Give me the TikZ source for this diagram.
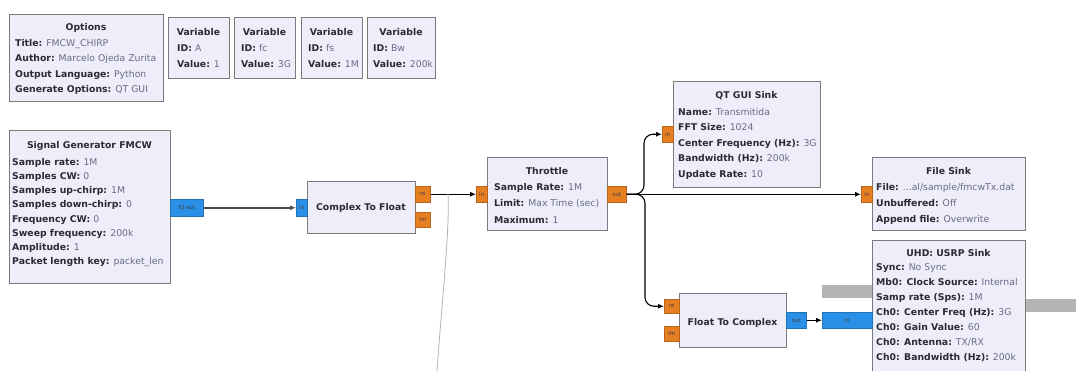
\documentclass[tikz,border=0pt]{standalone}
\usepackage{fontspec}
\setmainfont{DejaVu Sans}
\usetikzlibrary{arrows.meta}
\definecolor{boxfill}{HTML}{EEEEFA}
\definecolor{boxline}{HTML}{7A7A7A}
\definecolor{keyc}{HTML}{2A2A35}
\definecolor{valc}{HTML}{6A6A88}
\definecolor{porto}{HTML}{E67E22}
\definecolor{portb}{HTML}{2A8FE6}
\definecolor{gbarc}{HTML}{B4B4B4}
\newcommand\pf[1]{\fontsize{9.3}{#1}\selectfont}
\newcommand\kv[2]{\textbf{\color{keyc}#1:} {\color{valc}#2}}
\tikzset{
  box/.style={draw=boxline, fill=boxfill, line width=1.3pt, inner sep=0pt, anchor=north west},
  ttl/.style={font=\pf{12}\bfseries, text=keyc, anchor=base, inner sep=0pt},
  prm/.style={font=\pf{#1}, anchor=base west, inner sep=0pt},
  portbase/.style={draw=#1!80!black, fill=#1, line width=0.5pt, inner sep=0pt, anchor=north west,
    font=\fontsize{5.5}{6}\selectfont, text=black!75},
  po/.style={portbase=porto},
  pb/.style={portbase=portb},
  gbar/.style={fill=gbarc, draw=none, inner sep=0pt, anchor=north west},
  wire/.style={draw=black, line width=1.1pt, -{Latex[length=6pt,width=5pt]}},
}
\begin{document}
\begin{tikzpicture}[x=1pt,y=-1pt]
\useasboundingbox (0,0) rectangle (1076,370);
\clip (0,0) rectangle (1076,370);
\fill[white] (0,0) rectangle (1076,370);

% Options
\node[box, minimum width=154, minimum height=87] (opt) at (9,14) {};
\node[ttl] (optT) at (86,30) {Options};
\node[prm=15.6] (optP) at (15,46) {\begin{tabular}[t]{@{}l@{}}
\kv{Title}{FMCW\_CHIRP}\\ \kv{Author}{Marcelo Ojeda Zurita}\\
\kv{Output Language}{Python}\\ \kv{Generate Options}{QT GUI}\end{tabular}};

% Variables
\node[box, minimum width=61, minimum height=61] (varA) at (168,17) {};
\node[ttl] (varAT) at (198.5,35.6) {Variable};
\node[prm=15.8] (varAP) at (177,51.6) {\begin{tabular}[t]{@{}l@{}}\kv{ID}{A}\\ \kv{Value}{1}\end{tabular}};
\node[box, minimum width=61, minimum height=61] (varB) at (234,17) {};
\node[ttl] (varBT) at (264.5,35.6) {Variable};
\node[prm=15.8] (varBP) at (241,51.6) {\begin{tabular}[t]{@{}l@{}}\kv{ID}{fc}\\ \kv{Value}{3G}\end{tabular}};
\node[box, minimum width=61, minimum height=61] (varC) at (301,17) {};
\node[ttl] (varCT) at (331.5,35.6) {Variable};
\node[prm=15.8] (varCP) at (308,51.6) {\begin{tabular}[t]{@{}l@{}}\kv{ID}{fs}\\ \kv{Value}{1M}\end{tabular}};
\node[box, minimum width=68, minimum height=61] (varD) at (367,17) {};
\node[ttl] (varDT) at (401,35.6) {Variable};
\node[prm=15.8] (varDP) at (373,51.6) {\begin{tabular}[t]{@{}l@{}}\kv{ID}{Bw}\\ \kv{Value}{200k}\end{tabular}};

% Signal generator
\node[box, minimum width=161, minimum height=153] (sig) at (9,130) {};
\node[ttl] (sigT) at (89.5,148.5) {Signal Generator FMCW};
\node[prm=14.25] (sigP) at (12,165) {\begin{tabular}[t]{@{}l@{}}
\kv{Sample rate}{1M}\\ \kv{Samples CW}{0}\\ \kv{Samples up-chirp}{1M}\\
\kv{Samples down-chirp}{0}\\ \kv{Frequency CW}{0}\\ \kv{Sweep frequency}{200k}\\
\kv{Amplitude}{1}\\ \kv{Packet length key}{packet\_len}\end{tabular}};

% Complex To Float
\node[box, minimum width=108, minimum height=52] (c2f) at (307,181) {};
\node[ttl] (c2fT) at (361,210.5) {Complex To Float};

% Throttle
\node[box, minimum width=120, minimum height=73] (thr) at (487,157) {};
\node[ttl] (thrT) at (547,174) {Throttle};
\node[prm=16.3] (thrP) at (494,190.6) {\begin{tabular}[t]{@{}l@{}}
\kv{Sample Rate}{1M}\\ \kv{Limit}{Max Time (sec)}\\ \kv{Maximum}{1}\end{tabular}};

% QT GUI Sink
\node[box, minimum width=147, minimum height=106] (qt) at (673,81) {};
\node[ttl] (qtT) at (746.5,98.3) {QT GUI Sink};
\node[prm=15.6] (qtP) at (678,115) {\begin{tabular}[t]{@{}l@{}}
\kv{Name}{Transmitida}\\ \kv{FFT Size}{1024}\\ \kv{Center Frequency (Hz)}{3G}\\
\kv{Bandwidth (Hz)}{200k}\\ \kv{Update Rate}{10}\end{tabular}};

% File Sink
\node[box, minimum width=153, minimum height=73] (fs) at (872,157) {};
\node[ttl] (fsT) at (948.5,174) {File Sink};
\node[prm=15.8] (fsP) at (876,190.6) {\begin{tabular}[t]{@{}l@{}}
\kv{File}{...al/sample/fmcwTx.dat}\\ \kv{Unbuffered}{Off}\\ \kv{Append file}{Overwrite}\end{tabular}};

% grey bars behind the USRP sink
\node[gbar, minimum width=52, minimum height=13] (barL) at (822,285) {};
\node[gbar, minimum width=56, minimum height=13] (barR) at (1024,299) {};

% UHD: USRP Sink
\node[box, minimum width=153, minimum height=145] (usrp) at (872,240) {};
\node[ttl] (usT) at (948.5,256) {UHD: USRP Sink};
\node[prm=14.95] (usP) at (876,270.6) {\begin{tabular}[t]{@{}l@{}}
\kv{Sync}{No Sync}\\ \kv{Mb0: Clock Source}{Internal}\\ \kv{Samp rate (Sps)}{1M}\\
\kv{Ch0: Center Freq (Hz)}{3G}\\ \kv{Ch0: Gain Value}{60}\\ \kv{Ch0: Antenna}{TX/RX}\\
\kv{Ch0: Bandwidth (Hz)}{200k}\end{tabular}};

% Float To Complex
\node[box, minimum width=107, minimum height=54] (f2c) at (679,293) {};
\node[ttl] (f2cT) at (732.5,325) {Float To Complex};

% Ports
\node[pb, minimum width=33, minimum height=17] (sigO) at (170,199) {IQ out};
\node[pb, minimum width=11, minimum height=17] (c2fI) at (296,199) {in};
\node[po, minimum width=15, minimum height=16] (c2fR) at (415,186) {re};
\node[po, minimum width=15, minimum height=15] (c2fM) at (415,212) {im};
\node[po, minimum width=11, minimum height=16] (thrI) at (476,186) {in};
\node[po, minimum width=19, minimum height=16] (thrO) at (607,186) {out};
\node[po, minimum width=11, minimum height=16] (qtI) at (662,126) {in};
\node[po, minimum width=11, minimum height=16] (fsI) at (861,186) {in};
\node[po, minimum width=15, minimum height=14] (f2cR) at (664,299) {re};
\node[po, minimum width=15, minimum height=15] (f2cM) at (664,326) {im};
\node[pb, minimum width=20, minimum height=16] (f2cO) at (786,312) {out};
\node[pb, minimum width=50, minimum height=16] (usI) at (822,312) {in};

% Connections
\draw[wire, draw=black!70, line width=1.6pt] (sigO.east) -- (c2fI.west);
\draw[wire] (c2fR.east) -- (thrI.west);
\draw[wire] (thrO.east) -- (fsI.west);
\draw[wire, rounded corners=9pt] (thrO.east) -| ([xshift=-18pt]qtI.west) -- (qtI.west);
\draw[wire, rounded corners=9pt] (thrO.east) -| ([xshift=-19pt]f2cR.west) -- (f2cR.west);
\draw[wire] (f2cO.east) -- (usI.west);

% thin grey line leaving the picture
\coordinate (g1) at (448,194);
\coordinate (g2) at (437,372);
\draw[gray!60, line width=0.8pt] (g1) .. controls (450,230) and (441,310) .. (g2);
\end{tikzpicture}
\end{document}
